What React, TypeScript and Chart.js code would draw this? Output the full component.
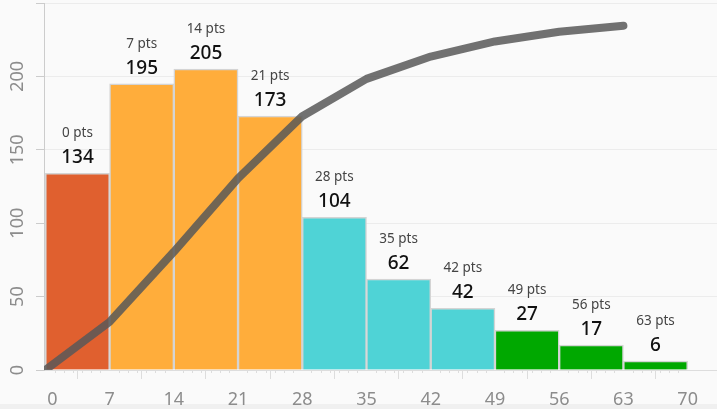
import React, { useEffect, useRef } from "react";
import { Chart, registerables } from "chart.js";

Chart.register(...registerables);

const binStarts = [0, 7, 14, 21, 28, 35, 42, 49, 56, 63];
const binLabels = ["0 pts", "7 pts", "14 pts", "21 pts", "28 pts", "35 pts", "42 pts", "49 pts", "56 pts", "63 pts"];
const counts = [134, 195, 205, 173, 104, 62, 42, 27, 17, 6];
const barColors = ["#e0602f", "#ffad3b", "#ffad3b", "#ffad3b", "#4fd3d6", "#4fd3d6", "#4fd3d6", "#00a800", "#00a800", "#00a800"];
const cumulativeLine = [0, 32.8, 80.5, 130.6, 172.9, 198.3, 213.5, 223.8, 230.4, 234.5];
const xTickValues = [0, 7, 14, 21, 28, 35, 42, 49, 56, 63, 70];
const yTickValues = [0, 50, 100, 150, 200];

const BIN_WIDTH = 7;
const FONT = "'Noto Sans', sans-serif";

const overlayPlugin = {
  id: "overlay",
  beforeDraw(chart: any) {
    const ctx = chart.ctx;
    ctx.save();
    ctx.fillStyle = "#fafafa";
    ctx.fillRect(0, 0, chart.width, chart.height);
    ctx.fillStyle = "#f0f0f0";
    ctx.fillRect(0, 404, chart.width, chart.height - 404);
    ctx.restore();
  },
  afterDraw(chart: any) {
    const ctx = chart.ctx;
    const xs = chart.scales.x;
    const ys = chart.scales.y;
    const area = chart.chartArea;
    ctx.save();
    // minor ticks
    ctx.strokeStyle = "#dddddd";
    ctx.lineWidth = 1;
    for (let v = 0; v <= 70; v++) {
      if (v % 7 === 0) continue;
      const px = Math.round(xs.getPixelForValue(v)) + 0.5;
      ctx.beginPath();
      ctx.moveTo(px, area.bottom);
      ctx.lineTo(px, area.bottom + 3);
      ctx.stroke();
    }
    // x tick labels
    ctx.fillStyle = "#8c8c8c";
    ctx.font = `18px ${FONT}`;
    ctx.textAlign = "center";
    ctx.textBaseline = "alphabetic";
    xTickValues.forEach((v) => {
      let px = xs.getPixelForValue(v);
      if (v === 0) px += 7;
      ctx.fillText(String(v), px, 405);
    });
    // y tick labels rotated
    yTickValues.forEach((v) => {
      const py = ys.getPixelForValue(v);
      ctx.save();
      ctx.translate(18, py);
      ctx.rotate(-Math.PI / 2);
      ctx.textAlign = "center";
      ctx.textBaseline = "middle";
      ctx.fillText(String(v), 0, 0);
      ctx.restore();
    });
    // bar labels
    counts.forEach((c, i) => {
      const cx = xs.getPixelForValue(binStarts[i] + BIN_WIDTH / 2);
      const top = ys.getPixelForValue(c);
      ctx.textAlign = "center";
      ctx.textBaseline = "alphabetic";
      ctx.fillStyle = "#111111";
      ctx.font = `500 19px ${FONT}`;
      ctx.fillText(String(c), cx, top - 10);
      ctx.fillStyle = "#444444";
      ctx.font = `13.5px ${FONT}`;
      ctx.fillText(binLabels[i], cx, top - 36);
    });
    ctx.restore();
  },
};

export default function App() {
  const canvasRef = useRef<HTMLCanvasElement | null>(null);

  useEffect(() => {
    if (!canvasRef.current) return;
    const chart = new Chart(canvasRef.current, {
      type: "bar",
      data: {
        datasets: [
          {
            type: "line",
            data: binStarts.map((x, i) => ({ x, y: cumulativeLine[i] })),
            borderColor: "rgba(88,88,88,0.85)",
            borderWidth: 8,
            borderCapStyle: "round",
            borderJoinStyle: "round",
            pointRadius: 0,
            tension: 0,
            order: 0,
          } as any,
          {
            type: "bar",
            data: binStarts.map((x, i) => ({ x: x + BIN_WIDTH / 2, y: counts[i] })),
            backgroundColor: barColors,
            borderColor: "#d4d4d4",
            borderWidth: 1.5,
            barPercentage: 1,
            categoryPercentage: 1,
            order: 1,
          } as any,
        ],
      },
      options: {
        responsive: false,
        animation: false,
        layout: { padding: { top: 3, right: 0, left: 0, bottom: 0 } },
        plugins: { legend: { display: false }, tooltip: { enabled: false } },
        scales: {
          x: {
            type: "linear",
            min: -0.15,
            max: 73.2,
            offset: false,
            afterBuildTicks: (scale: any) => {
              scale.ticks = xTickValues.map((v) => ({ value: v }));
            },
            afterFit: (scale: any) => {
              scale.height = 39;
            },
            ticks: { display: false },
            grid: {
              drawOnChartArea: false,
              tickLength: 9,
              tickColor: "#dddddd",
            },
            border: { color: "#dddddd" },
          },
          y: {
            type: "linear",
            min: 0,
            max: 250,
            afterBuildTicks: (scale: any) => {
              scale.ticks = [0, 50, 100, 150, 200, 250].map((v) => ({ value: v }));
            },
            afterFit: (scale: any) => {
              scale.width = 44;
            },
            ticks: { display: false },
            grid: {
              color: "#ececec",
              tickLength: 8,
              tickColor: "#cccccc",
            },
            border: { color: "#cccccc" },
          },
        },
      } as any,
      plugins: [overlayPlugin],
    });
    return () => chart.destroy();
  }, []);

  return (
    <div style={{ position: "absolute", left: 0, top: 0, width: 717, height: 409 }}>
      <canvas ref={canvasRef} width={717} height={409} style={{ display: "block" }} />
    </div>
  );
}
